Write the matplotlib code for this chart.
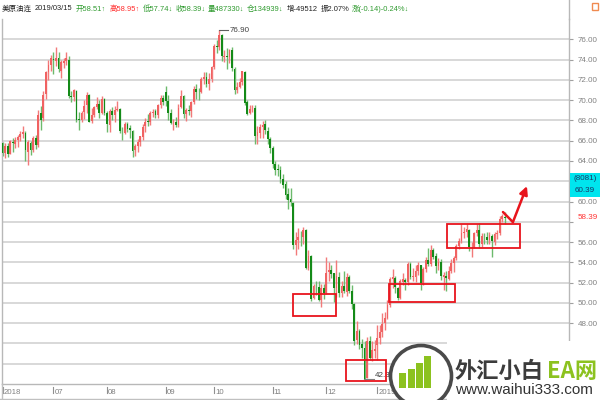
import numpy as np
import matplotlib.pyplot as plt
import matplotlib.transforms as mtransforms
from matplotlib.patches import Rectangle, Circle
from matplotlib.lines import Line2D

plt.rcParams['font.family'] = ['Liberation Sans', 'Noto Sans CJK SC', 'DejaVu Sans']

# 美原油连 daily bars, 2018-06-04 .. 2019-03-15
months = ["2018-06", "2018-07", "2018-08", "2018-09", "2018-10",
          "2018-11", "2018-12", "2019-01", "2019-02", "2019-03"]
days = [
    [4, 5, 6, 7, 8, 11, 12, 13, 14, 15, 18, 19, 20, 21, 22, 25, 26, 27, 28, 29],
    [2, 3, 5, 6, 9, 10, 11, 12, 13, 16, 17, 18, 19, 20, 23, 24, 25, 26, 27, 30, 31],
    [1, 2, 3, 6, 7, 8, 9, 10, 13, 14, 15, 16, 17, 20, 21, 22, 23, 24, 27, 28, 29, 30, 31],
    [4, 5, 6, 7, 10, 11, 12, 13, 14, 17, 18, 19, 20, 21, 24, 25, 26, 27, 28],
    [1, 2, 3, 4, 5, 8, 9, 10, 11, 12, 15, 16, 17, 18, 19, 22, 23, 24, 25, 26, 29, 30, 31],
    [1, 2, 5, 6, 7, 8, 9, 12, 13, 14, 15, 16, 19, 20, 21, 23, 26, 27, 28, 29, 30],
    [3, 4, 5, 6, 7, 10, 11, 12, 13, 14, 17, 18, 19, 20, 21, 24, 26, 27, 28, 31],
    [2, 3, 4, 7, 8, 9, 10, 11, 14, 15, 16, 17, 18, 22, 23, 24, 25, 28, 29, 30, 31],
    [1, 4, 5, 6, 7, 8, 11, 12, 13, 14, 15, 19, 20, 21, 22, 25, 26, 27, 28],
    [1, 4, 5, 6, 7, 8, 11, 12, 13, 14, 15],
]

opens = np.array([
    # jun
    65.75, 64.80, 65.50, 64.70, 65.90, 65.70, 66.10, 66.40, 66.70, 66.80,
    64.90, 65.80, 65.10, 66.30, 65.60, 68.70, 68.20, 70.60, 72.80, 73.50,
    # jul
    74.10, 73.90, 74.20, 72.90, 73.70, 73.90, 74.00, 70.40, 70.30, 70.90,
    68.10, 68.00, 68.80, 69.50, 70.50, 67.90, 68.50, 69.30, 69.60, 68.70, 70.10,
    # aug
    68.70, 67.50, 68.90, 68.50, 69.00, 69.10, 66.90, 66.80, 67.60, 67.20,
    67.00, 65.10, 65.50, 65.90, 66.40, 67.40, 67.90, 67.80, 68.70, 68.90,
    68.50, 69.50, 70.20,
    # sep
    70.80, 69.90, 68.70, 67.70, 67.80, 67.50, 69.30, 70.40, 68.60, 69.00,
    68.90, 69.80, 71.10, 70.80, 70.80, 72.10, 72.30, 71.60, 72.10,
    # oct
    73.30, 75.30, 75.20, 76.40, 74.30, 74.30, 74.30, 74.90, 73.10, 71.00,
    71.30, 71.80, 72.80, 69.80, 68.70, 69.10, 69.20, 66.50, 66.80, 67.30,
    67.60, 67.00, 66.20,
    # nov
    65.30, 63.70, 63.20, 63.10, 62.20, 61.70, 60.70, 60.20, 59.90, 55.70,
    56.20, 56.50, 56.50, 57.20, 53.40, 54.60, 50.50, 51.60, 51.60, 50.30, 51.50,
    # dec
    51.00, 53.00, 53.20, 52.90, 51.50, 52.60, 51.00, 51.70, 51.10, 52.60,
    51.20, 49.90, 46.30, 47.20, 45.90, 45.60, 42.60, 46.20, 44.60, 45.30,
    # jan
    45.80, 46.50, 47.10, 48.00, 48.50, 49.80, 52.40, 52.50, 51.50, 50.50,
    52.10, 52.30, 52.10, 53.80, 52.60, 52.60, 53.10, 53.70, 52.00, 53.30, 54.20,
    # feb
    53.80, 55.20, 54.60, 53.60, 54.00, 52.60, 52.70, 52.40, 53.10, 53.90,
    54.40, 55.60, 56.10, 56.90, 57.00, 57.20, 55.50, 55.50, 56.90,
    # mar
    57.20, 55.80, 56.60, 56.50, 56.20, 56.60, 56.00, 56.80, 56.90, 58.30, 58.51,
])
highs = np.array([
    65.85, 65.80, 65.80, 66.10, 66.25, 66.40, 66.55, 67.00, 67.40, 66.95,
    66.10, 65.95, 66.45, 66.60, 69.00, 69.40, 70.90, 72.90, 74.00, 74.45,
    74.70, 75.27, 74.70, 74.00, 74.20, 74.75, 74.40, 70.90, 71.10, 71.00,
    68.80, 68.90, 70.00, 70.80, 70.60, 69.20, 69.40, 70.30, 70.00, 70.40, 70.20,
    68.90, 69.10, 69.30, 69.40, 69.90, 69.20, 67.30, 67.80, 67.80, 67.50,
    67.10, 65.70, 66.20, 66.50, 67.60, 68.20, 68.60, 68.90, 69.10, 69.10,
    69.60, 70.50, 70.50,
    71.40, 70.50, 69.10, 68.10, 68.30, 69.60, 71.00, 70.50, 69.20, 69.50,
    69.90, 71.40, 71.60, 71.20, 72.30, 72.80, 72.80, 72.70, 73.40,
    75.50, 75.90, 76.90, 76.50, 74.90, 75.10, 75.00, 75.20, 73.30, 71.80,
    72.20, 72.90, 72.90, 70.00, 69.50, 69.50, 69.50, 67.40, 67.60, 67.90,
    68.00, 67.30, 66.40,
    65.50, 64.00, 63.70, 63.50, 62.70, 62.00, 61.30, 61.30, 60.00, 57.00,
    57.40, 57.10, 57.50, 57.30, 55.20, 54.70, 51.90, 52.20, 52.20, 51.90, 51.90,
    54.50, 54.00, 53.70, 52.95, 54.20, 53.00, 52.20, 53.10, 52.90, 52.80,
    51.80, 50.00, 48.20, 47.40, 46.40, 46.20, 46.60, 46.70, 46.20, 46.30,
    47.80, 47.80, 49.00, 49.10, 50.30, 52.60, 53.30, 52.70, 51.60, 52.40,
    52.90, 52.50, 54.00, 54.00, 53.40, 53.70, 54.00, 53.70, 53.50, 54.50, 55.40,
    55.70, 55.40, 54.90, 54.40, 54.30, 53.00, 53.10, 53.60, 54.30, 54.60,
    55.80, 56.40, 57.80, 57.50, 57.80, 57.30, 56.00, 57.00, 57.80,
    57.90, 56.90, 56.90, 57.00, 57.00, 56.80, 57.00, 57.20, 58.60, 58.80, 58.95,
])
lows = np.array([
    64.45, 64.25, 64.40, 64.65, 64.90, 65.30, 65.35, 66.00, 66.30, 63.95,
    63.59, 64.55, 64.90, 65.15, 65.40, 67.10, 67.90, 70.15, 72.00, 72.90,
    72.60, 73.40, 72.80, 72.20, 73.20, 73.50, 70.20, 69.80, 69.90, 67.80,
    67.03, 67.80, 68.10, 68.70, 67.80, 67.70, 68.30, 69.10, 68.20, 68.60, 68.50,
    66.90, 66.90, 68.00, 67.80, 68.90, 66.80, 66.10, 66.70, 66.90, 66.30,
    64.43, 64.50, 64.90, 65.50, 66.10, 66.90, 67.40, 67.50, 68.30, 68.20,
    68.20, 69.20, 69.50,
    69.40, 68.00, 67.60, 67.10, 67.30, 67.30, 69.20, 68.20, 67.90, 68.50,
    68.30, 69.60, 70.10, 70.00, 70.70, 71.60, 71.30, 71.00, 71.80,
    73.10, 74.60, 74.90, 73.90, 73.80, 73.10, 73.70, 72.90, 70.60, 70.70,
    71.20, 71.50, 69.50, 68.50, 68.60, 68.80, 65.70, 65.70, 66.30, 66.30,
    66.70, 65.70, 64.80,
    63.30, 62.60, 62.50, 61.80, 61.30, 60.20, 59.30, 59.60, 55.30, 54.75,
    55.30, 55.60, 55.80, 53.30, 53.20, 50.15, 50.40, 50.80, 50.20, 49.60, 50.40,
    50.90, 52.20, 52.50, 50.10, 50.60, 50.60, 50.60, 51.00, 50.70, 51.00,
    49.40, 45.80, 45.90, 45.50, 44.60, 42.36, 42.60, 44.40, 44.30, 44.60,
    44.35, 45.90, 46.60, 47.30, 48.40, 49.60, 51.50, 51.00, 50.30, 50.40,
    51.80, 51.30, 51.80, 52.40, 52.20, 52.10, 52.80, 51.30, 51.80, 53.00, 53.60,
    53.60, 54.30, 52.90, 53.20, 52.30, 51.30, 51.20, 52.30, 52.90, 53.00,
    54.20, 55.30, 55.90, 56.40, 56.50, 55.10, 54.50, 55.40, 56.60,
    55.40, 55.50, 55.80, 55.80, 55.80, 54.50, 55.70, 56.30, 56.70, 58.00, 57.74,
])
closes = np.array([
    64.75, 65.52, 64.73, 65.95, 65.74, 66.10, 66.36, 66.64, 66.89, 65.06,
    65.85, 65.07, 66.22, 65.54, 68.58, 68.08, 70.53, 72.76, 73.45, 74.15,
    73.94, 74.14, 73.05, 73.80, 73.85, 74.11, 70.38, 70.33, 71.01, 68.06,
    68.08, 68.76, 69.46, 70.46, 67.89, 68.52, 69.30, 69.61, 68.69, 70.13, 68.76,
    67.66, 68.96, 68.49, 69.01, 69.17, 66.94, 66.81, 67.63, 67.20, 67.04,
    65.01, 65.46, 65.91, 66.43, 67.35, 67.86, 67.83, 68.72, 68.87, 68.53,
    69.51, 70.25, 69.80,
    69.87, 68.72, 67.77, 67.75, 67.54, 69.25, 70.37, 68.59, 68.99, 68.91,
    69.85, 71.12, 70.80, 70.78, 72.08, 72.28, 71.57, 72.12, 73.25,
    75.30, 75.23, 76.41, 74.33, 74.34, 74.29, 74.96, 73.17, 70.97, 71.34,
    71.78, 72.92, 69.75, 68.65, 69.12, 69.17, 66.43, 66.82, 67.33, 67.59,
    67.04, 66.18, 65.31,
    63.69, 63.14, 63.10, 62.21, 61.67, 60.67, 60.19, 59.93, 55.69, 56.25,
    56.46, 56.46, 57.20, 53.43, 54.63, 50.42, 51.63, 51.56, 50.29, 51.45, 50.93,
    52.95, 53.25, 52.89, 51.49, 52.61, 51.00, 51.65, 51.15, 52.58, 51.20,
    49.88, 46.24, 47.20, 45.88, 45.59, 42.53, 46.22, 44.61, 45.33, 45.41,
    46.54, 47.09, 47.96, 48.52, 49.78, 52.36, 52.59, 51.59, 50.51, 52.11,
    52.31, 52.07, 53.80, 52.57, 52.62, 53.13, 53.69, 51.99, 53.31, 54.23, 53.79,
    55.26, 54.56, 53.66, 54.01, 52.64, 52.72, 52.41, 53.10, 53.90, 54.41,
    55.59, 56.09, 56.92, 56.96, 57.26, 55.48, 55.50, 56.94, 57.22,
    55.80, 56.59, 56.56, 56.22, 56.66, 56.07, 56.79, 56.87, 58.26, 58.61, 58.39,
])

# red boxes drawn on the chart: (first bar, last bar, low price, high price)
boxes = [(113.9, 130.8, 48.71, 50.88),
         (134.7, 150.4, 42.30, 44.37),
         (151.6, 177.5, 50.09, 51.86),
         (174.3, 202.9, 55.41, 57.77)]
# hand-drawn arrow: (bar, price) points
arrow_pts = [(196.3, 58.96), (200.2, 57.97), (205.7, 61.52)]

header = [("美原油连", 2, '#222222'), ("2019/03/15", 33, '#222222'),
          ("开58.51↑", 76, '#2e9a2e'), ("高58.95↑", 110, '#ff2a2a'),
          ("低57.74↓", 140, '#2e9a2e'), ("收58.39↓", 173, '#2e9a2e'),
          ("量487330↓", 203, '#2e9a2e'), ("仓134939↓", 243, '#2e9a2e'),
          ("增-49512", 287, '#222222'), ("振2.07%", 317, '#222222'),
          ("涨(-0.14)-0.24%↓", 349, '#2e9a2e')]

n = len(closes)
x = np.arange(n)
dates = [f"{m}-{d:02d}" for m, ds in zip(months, days) for d in ds]

fig = plt.figure(figsize=(6, 4), dpi=100)
ax = fig.add_axes([2 / 600, 16 / 400, 567 / 600, 365 / 400])


def fpx(px, py):
    return (px / 600, 1 - py / 400)


# candles
up = closes >= opens
body_col = np.where(up, '#f06262', '#148a18')
wick_col = np.where(up, '#f27a7a', '#6cba6c')
ax.vlines(x, lows, highs, colors=wick_col, linewidth=1.0, zorder=2)
body = np.maximum(np.abs(closes - opens), 0.05)
ax.bar(x, body, bottom=np.minimum(opens, closes), width=0.7,
       color=body_col, linewidth=0, zorder=3)

ax.set_xlim(-0.2, 222.2)
ax.set_ylim(42.0, 78.0)
yt = np.arange(44, 77, 2)
ax.set_yticks(yt)
# 62.00 sits under the cyan label, 58.00 under the last price, 44.00 under the watermark
ax.set_yticklabels(['' if v in (44, 58, 62) else f"{v:.2f}" for v in yt])
ax.yaxis.grid(True, color='#d6d6d6', linewidth=1.3)
ax.set_axisbelow(True)
ax.yaxis.tick_right()
ax.tick_params(axis='y', length=3, width=0.8, color='#a0a0a0',
               labelcolor='#808080', labelsize=5.8, pad=3)
ax.set_xticks([])
for s in ['left', 'right', 'bottom']:
    ax.spines[s].set_color('#b8b8b8')
    ax.spines[s].set_linewidth(1)
ax.spines['top'].set_visible(False)

# month labels on the time axis (later ones sit under the watermark)
trans = mtransforms.blended_transform_factory(ax.transData, ax.transAxes)
prev = None
for i, d in enumerate(dates):
    ym = d[:7]
    if ym != prev:
        lab = d[:4] if (prev is None or d[:4] != prev[:4]) else d[5:7]
        if ym <= "2019-01":
            ax.plot([i, i], [-0.009, -0.025], color='#909090', lw=0.8,
                    transform=trans, clip_on=False)
            ax.text(i + 0.4, -0.024, lab, transform=trans, ha='left', va='center',
                    fontsize=5.6, color='#808080')
        prev = ym

# highest / lowest marks
imax = int(np.argmax(highs))
imin = int(np.argmin(lows))
ax.plot([imax, imax + 3.6], [highs[imax], highs[imax]], color='#606060', lw=0.8, zorder=4)
ax.text(imax + 3.9, highs[imax], f"{highs[imax]:.2f}", ha='left', va='center',
        fontsize=5.8, color='#404040')
ax.plot([imin - 0.4, imin + 3.6], [lows[imin] + 0.1, lows[imin] + 0.1],
        color='#808080', lw=0.8, zorder=4)
ax.annotate(f"{lows[imin]:.2f}", xy=(imin + 3.9, lows[imin]), xytext=(0, 3.5),
            textcoords='offset points', ha='left', va='center',
            fontsize=5.8, color='#404040')

# red boxes and arrow
for x0, x1, y0, y1 in boxes:
    ax.add_patch(Rectangle((x0, y0), x1 - x0, y1 - y0, fill=False,
                           ec='#e8141c', lw=1.3, zorder=5))
ax.plot([p[0] for p in arrow_pts[:2]], [p[1] for p in arrow_pts[:2]],
        color='#e8141c', lw=1.8, zorder=5, solid_capstyle='round')
ax.annotate('', xy=arrow_pts[2], xytext=arrow_pts[1],
            arrowprops=dict(arrowstyle='-|>', color='#e8141c', lw=1.8,
                            mutation_scale=12, shrinkA=0, shrinkB=0), zorder=5)

# last price label on the right axis
tr_r = mtransforms.blended_transform_factory(ax.transAxes, ax.transData)
ax.text(1 + 9 / 567, closes[-1], f"{closes[-1]:.2f}", transform=tr_r,
        ha='left', va='center', fontsize=5.8, color='#ff3333',
        bbox=dict(fc='white', ec='none', pad=0.4))

# cyan cross-hair label
fig.patches.append(Rectangle(fpx(570, 197), 30 / 600, 24 / 400, transform=fig.transFigure,
                             fc='#00e5ee', ec='none', zorder=3))
fig.text(*fpx(585, 179), "(8081)", ha='center', va='center', fontsize=5.8,
         color='#1b3566', zorder=4)
fig.text(*fpx(585, 191), "60.39", ha='center', va='center', fontsize=5.8,
         color='#1b3566', zorder=4)

# header line, laid out left to right
renderer = fig.canvas.get_renderer()
cur = 0
for txt, px, c in header:
    t = fig.text(max(px, cur) / 600, 1 - 9 / 400, txt, ha='left', va='center',
                 fontsize=5.4, color=c)
    cur = t.get_window_extent(renderer).x1 + 2.5
fig.add_artist(Line2D([569 / 600, 569 / 600], [1 - 19 / 400, 1], color='#b8b8b8',
                      lw=1, transform=fig.transFigure))
fig.patches.append(Rectangle(fpx(592, 10), 6 / 600, 7 / 400, transform=fig.transFigure,
                             fill=False, ec='#f08a50', lw=1))
fig.add_artist(Line2D([0, 569 / 600], [1 - 399 / 400] * 2, color='#c0c0c0',
                      lw=1, transform=fig.transFigure))
fig.add_artist(Line2D([2 / 600] * 2, [0, 16 / 400], color='#c0c0c0',
                      lw=1, transform=fig.transFigure))

# watermark
fig.patches.append(Rectangle(fpx(447, 400), 153 / 600, 59 / 400, transform=fig.transFigure,
                             fc='white', ec='none', zorder=5))
fig.patches.append(Circle((421, 400 - 376), 30.5, transform=None,
                          fc='white', ec='#4a4a4a', lw=2.6, zorder=6))
for bx, btop in [(399, 373), (408, 369), (416, 363), (424, 356)]:
    fig.patches.append(Rectangle(fpx(bx, 388), 6.5 / 600, (388 - btop) / 400,
                                 transform=fig.transFigure, fc='#8cc21f', ec='none', zorder=7))
fig.text(*fpx(455, 371), "外汇小白", ha='left', va='center', fontsize=16,
         fontweight='bold', color='#3c3c3c', family=['Noto Sans CJK SC'], zorder=8)
fig.text(*fpx(547, 371), "EA网", ha='left', va='center', fontsize=16,
         fontweight='bold', color='#8cc21f', family=['Noto Sans CJK SC'], zorder=8)
fig.text(*fpx(455, 390), "www.waihui333.com", ha='left', va='center', fontsize=11,
         color='#333333', zorder=8)

fig.savefig('out.png', dpi=100)
